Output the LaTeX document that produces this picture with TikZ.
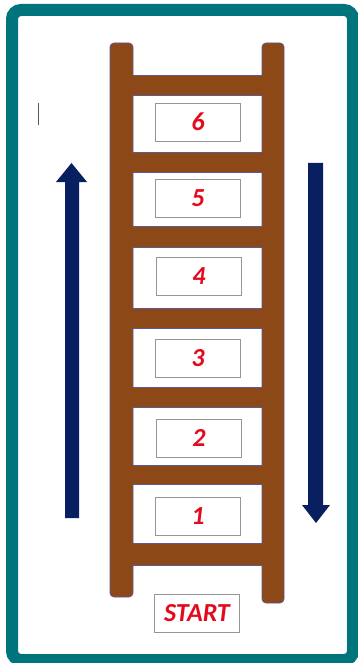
\documentclass[tikz,border=0pt]{standalone}
\usepackage{fontspec}
\setmainfont{Carlito}
\definecolor{teal1}{RGB}{0,116,124}
\definecolor{wood}{RGB}{140,72,22}
\definecolor{woodline}{RGB}{90,90,150}
\definecolor{navy}{RGB}{8,32,96}
\definecolor{redtxt}{RGB}{228,10,30}
\definecolor{boxline}{RGB}{150,150,150}
\tikzset{
  frame/.style={draw=teal1,line width=12pt,rounded corners=9pt},
  rail/.style={fill=wood,draw=woodline,line width=0.7pt,rounded corners=4pt},
  rungfill/.style={fill=wood},
  rungline/.style={draw=woodline,line width=0.5pt},
  stepbox/.style={draw=boxline,line width=0.6pt,fill=white,minimum width=85pt,minimum height=38pt,inner sep=0pt,
    font=\fontsize{26}{26}\selectfont\bfseries\itshape,text=redtxt},
  bigarrow/.style={fill=navy,draw=none}
}
\begin{document}
\begin{tikzpicture}[x=1pt,y=-1pt]
\useasboundingbox (0,0) rectangle (358,663);
\fill[white] (0,0) rectangle (358,663);
\draw[frame] (12,10) rectangle (353,660);
% rails
\draw[rail] (110,43) rectangle (133,597);
\draw[rail] (262,43) rectangle (284,603);
% rungs
\foreach \a/\b in {75/95,152/172,226/247,308/328,387/407,465/484,543/565}{
  \fill[rungfill] (128,\a) rectangle (265,\b);
  \draw[rungline] (133,\a) -- (262,\a) (133,\b) -- (262,\b);
}
% boxes
\node[stepbox] (s6) at (198,122) {6};
\node[stepbox] (s5) at (198,198) {5};
\node[stepbox] (s4) at (199,276) {4};
\node[stepbox] (s3) at (198,358) {3};
\node[stepbox] (s2) at (199,438) {2};
\node[stepbox] (s1) at (198,516) {1};
\node[stepbox] (start) at (197,613) {START};
% arrows
\fill[bigarrow] (65,518) -- (65,182) -- (56,182) -- (71.5,163) -- (87,182) -- (79,182) -- (79,518) -- cycle;
\fill[bigarrow] (308,163) -- (308,505) -- (302,505) -- (316,523) -- (330,505) -- (323,505) -- (323,163) -- cycle;
% small mark
\draw[gray!70!black,line width=0.9pt] (38,103) -- (38,125);
\end{tikzpicture}
\end{document}
